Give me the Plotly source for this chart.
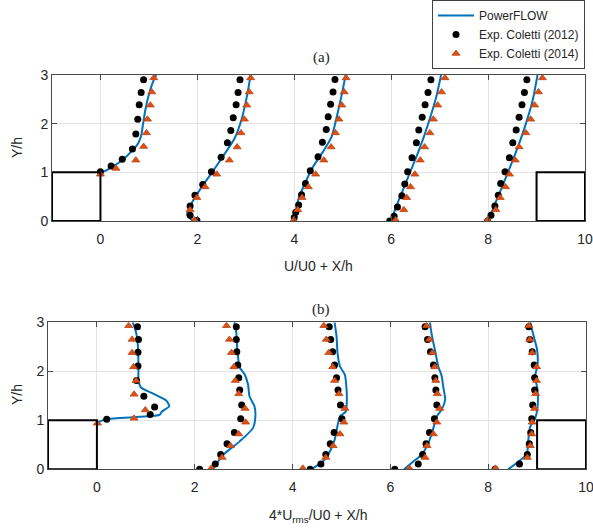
import plotly.graph_objects as go

# ---------------- data ----------------
stations = [0, 2, 4, 6, 8]  # X/h

# (a) mean velocity U/U0 -- PowerFLOW
a_sim_y = [
    [1.0, 1.03, 1.1, 1.25, 1.45, 1.6, 1.75, 2.0, 2.3, 2.6, 2.85, 3.0],
    [0.0, 0.05, 0.14, 0.36, 0.64, 0.98, 1.33, 1.70, 2.08, 2.55, 3.0],
    [0.0, 0.43, 0.77, 1.12, 1.42, 1.73, 2.11, 2.55, 3.0],
    [0.0, 0.29, 0.63, 0.98, 1.32, 1.66, 2.08, 2.55, 3.0],
    [0.0, 0.25, 0.56, 0.90, 1.25, 1.59, 2.0, 2.48, 3.0],
]
a_sim_u = [
    [0.0, 0.1, 0.22, 0.45, 0.66, 0.78, 0.84, 0.88, 0.93, 1.0, 1.08, 1.15],
    [-0.08, -0.15, -0.21, -0.12, 0.05, 0.29, 0.53, 0.77, 0.91, 1.02, 1.10],
    [0.0, 0.08, 0.22, 0.39, 0.59, 0.77, 0.87, 0.97, 1.06],
    [0.0, 0.10, 0.24, 0.38, 0.52, 0.65, 0.79, 0.93, 1.03],
    [-0.01, 0.10, 0.23, 0.37, 0.51, 0.64, 0.78, 0.92, 1.02],
]
# (a) Exp. Coletti (2012)
a_e12_y = [
    [1.01, 1.13, 1.27, 1.48, 1.79, 2.09, 2.39, 2.64, 2.90],
    [0.01, 0.12, 0.31, 0.53, 0.75, 1.01, 1.31, 1.61, 1.86, 2.12, 2.39, 2.64, 2.90],
    [0.07, 0.18, 0.33, 0.54, 0.77, 1.03, 1.32, 1.62, 1.88, 2.14, 2.40, 2.65, 2.91],
    [0.0, 0.10, 0.29, 0.52, 0.76, 1.01, 1.30, 1.61, 1.87, 2.13, 2.39, 2.64, 2.90],
    [0.0, 0.12, 0.31, 0.53, 0.77, 1.01, 1.30, 1.61, 1.87, 2.13, 2.39, 2.64, 2.90],
]
a_e12_u = [
    [0.0, 0.22, 0.45, 0.66, 0.73, 0.77, 0.80, 0.84, 0.89],
    [-0.01, -0.15, -0.15, -0.05, 0.11, 0.29, 0.49, 0.62, 0.69, 0.74, 0.80, 0.84, 0.88],
    [0.0, 0.03, 0.09, 0.15, 0.23, 0.33, 0.49, 0.58, 0.66, 0.70, 0.75, 0.80, 0.84],
    [-0.03, 0.06, 0.13, 0.22, 0.28, 0.34, 0.43, 0.52, 0.57, 0.64, 0.70, 0.76, 0.82],
    [-0.01, 0.06, 0.14, 0.21, 0.26, 0.35, 0.44, 0.51, 0.58, 0.64, 0.70, 0.75, 0.80],
]
# (a) Exp. Coletti (2014)
e14_y_block = [0.96, 1.08, 1.25, 1.53, 1.81, 2.09, 2.38, 2.65, 2.94]
e14_y_wake = [0.02, 0.23, 0.48, 0.70, 0.96, 1.25, 1.52, 1.81, 2.09, 2.38, 2.65, 2.94]
a_e14_u = [
    [0.0, 0.32, 0.73, 0.89, 0.95, 0.97, 1.03, 1.06, 1.10],
    [-0.06, -0.15, -0.01, 0.16, 0.40, 0.66, 0.82, 0.90, 0.97, 1.02, 1.07, 1.10],
    [-0.01, 0.07, 0.16, 0.29, 0.44, 0.61, 0.76, 0.85, 0.92, 0.98, 1.03, 1.07],
    [0.09, 0.26, 0.32, 0.40, 0.49, 0.60, 0.69, 0.80, 0.87, 0.96, 1.04, 1.11],
    [-0.01, 0.16, 0.25, 0.36, 0.44, 0.56, 0.64, 0.78, 0.88, 0.96, 1.04, 1.12],
]

# (b) 4*Urms/U0 -- PowerFLOW
b_sim_y = [
    [0.95, 1.02, 1.07, 1.11, 1.18, 1.29, 1.41, 1.55, 1.67, 1.82, 2.09, 2.63, 2.87, 3.0],
    [0.0, 0.32, 0.57, 0.84, 1.08, 1.29, 1.49, 1.73, 1.94, 2.08, 2.45, 2.79, 3.0],
    [0.0, 0.16, 0.36, 0.60, 0.84, 1.08, 1.18, 1.42, 1.69, 1.93, 2.10, 2.37, 2.71, 3.0],
    [0.0, 0.16, 0.30, 0.54, 0.77, 1.08, 1.22, 1.42, 1.69, 1.90, 2.10, 2.44, 2.78, 3.0],
    [0.0, 0.16, 0.31, 0.60, 0.87, 1.04, 1.28, 1.62, 1.90, 2.13, 2.44, 2.72, 3.0],
]
b_sim_v = [
    [0.01, 0.18, 0.87, 1.28, 1.33, 1.48, 1.41, 1.14, 0.90, 0.85, 0.85, 0.83, 0.78, 0.73],
    [0.36, 0.61, 0.92, 1.19, 1.24, 1.22, 1.12, 1.09, 1.02, 0.92, 0.87, 0.85, 0.81],
    [0.38, 0.62, 0.76, 0.86, 0.91, 0.97, 1.09, 1.11, 1.10, 1.07, 0.97, 0.92, 0.90, 0.86],
    [0.28, 0.47, 0.64, 0.78, 0.86, 0.95, 1.05, 1.12, 1.08, 1.05, 0.98, 0.91, 0.84, 0.81],
    [0.41, 0.62, 0.79, 0.82, 0.86, 0.96, 1.01, 1.01, 0.96, 1.01, 1.00, 0.93, 0.86],
]
# (b) Exp. Coletti (2012)
b_e12_y_block = [1.02, 1.12, 1.27, 1.49, 1.81, 2.11, 2.39, 2.65, 2.91]
b_e12_y_wake = [0.0, 0.11, 0.30, 0.52, 0.75, 1.03, 1.31, 1.62, 1.87, 2.13, 2.40, 2.65, 2.91]
b_e12_v = [
    [0.20, 1.09, 1.18, 0.96, 0.81, 0.84, 0.84, 0.85, 0.83],
    [0.10, 0.42, 0.53, 0.66, 0.81, 0.94, 0.96, 0.92, 0.90, 0.88, 0.86, 0.85, 0.85],
    [0.36, 0.58, 0.68, 0.77, 0.85, 1.01, 0.98, 0.93, 0.90, 0.86, 0.82, 0.78, 0.75],
    [0.09, 0.57, 0.66, 0.73, 0.80, 0.90, 0.95, 0.93, 0.91, 0.88, 0.82, 0.76, 0.71],
    [0.14, 0.64, 0.80, 0.84, 0.87, 0.89, 0.91, 0.95, 0.95, 0.94, 0.90, 0.85, 0.83],
]
# (b) Exp. Coletti (2014)
b_e14_y_block = [0.94, 1.04, 1.21, 1.53, 1.81, 2.09, 2.38, 2.65, 2.93]
b_e14_y_wake = [0.02, 0.24, 0.48, 0.72, 0.96, 1.24, 1.54, 1.81, 2.09, 2.38, 2.65, 2.93]
b_e14_v = [
    [0.01, 0.76, 0.99, 0.76, 0.80, 0.75, 0.72, 0.72, 0.65],
    [0.34, 0.56, 0.73, 0.90, 1.04, 1.03, 0.90, 0.83, 0.80, 0.75, 0.71, 0.65],
    [0.21, 0.68, 0.83, 0.97, 1.05, 1.07, 0.95, 0.86, 0.82, 0.74, 0.69, 0.64],
    [0.39, 0.71, 0.75, 0.88, 0.95, 1.01, 0.96, 0.93, 0.91, 0.86, 0.80, 0.74],
    [0.15, 0.80, 0.86, 0.89, 0.90, 0.95, 0.97, 0.99, 0.99, 0.90, 0.85, 0.83],
]

# blocks (obstacles), in X/h and Y/h
block_x_spans = [(-1, 0), (9, 10)]
block_height = 1

x_ticks = [0, 2, 4, 6, 8, 10]
y_ticks = [0, 1, 2, 3]

# ---------------- helpers ----------------
def join(vals_list, ys_list):
    xs, ys = [], []
    for st, v, y in zip(stations, vals_list, ys_list):
        xs += [st + a for a in v] + [None]
        ys += list(y) + [None]
    return xs, ys

BLUE = "#0072BD"
ORANGE = "#D95319"
FONT = "Liberation Sans"
SERIF = "Liberation Serif"

fig = go.Figure()

panels = [
    ("x", "y", a_sim_u, a_sim_y, a_e12_u, a_e12_y,
     a_e14_u, [e14_y_block] + [e14_y_wake] * 4, True),
    ("x2", "y2", b_sim_v, b_sim_y, b_e12_v, [b_e12_y_block] + [b_e12_y_wake] * 4,
     b_e14_v, [b_e14_y_block] + [b_e14_y_wake] * 4, False),
]

for xa, ya, sv, sy, e12v, e12y, e14v, e14y, show in panels:
    for i, (st, v, y) in enumerate(zip(stations, sv, sy)):
        fig.add_trace(go.Scatter(
            x=[st + a for a in v], y=y, mode="lines", xaxis=xa, yaxis=ya,
            line=dict(color=BLUE, width=2, shape="spline", smoothing=0.6),
            name="PowerFLOW", legendgroup="sim",
            showlegend=(show and i == 0)))
    x12, y12 = join(e12v, e12y)
    fig.add_trace(go.Scatter(
        x=x12, y=y12, mode="markers", xaxis=xa, yaxis=ya,
        marker=dict(color="black", size=7, symbol="circle"),
        name="Exp. Coletti (2012)", legendgroup="e12", showlegend=show))
    x14, y14 = join(e14v, e14y)
    fig.add_trace(go.Scatter(
        x=x14, y=y14, mode="markers", xaxis=xa, yaxis=ya,
        marker=dict(color=ORANGE, size=7, symbol="triangle-up",
                    line=dict(color="#C04010", width=0.8)),
        name="Exp. Coletti (2014)", legendgroup="e14", showlegend=show))

# blocks
for xr, yr in [("x", "y"), ("x2", "y2")]:
    for x0, x1 in block_x_spans:
        fig.add_shape(type="rect", xref=xr, yref=yr, x0=x0, x1=x1, y0=0,
                      y1=block_height, line=dict(color="black", width=2),
                      fillcolor="rgba(0,0,0,0)")

W, H = 593, 530
axis_common = dict(
    showline=True, linecolor="#4a4a4a", linewidth=1, mirror="ticks",
    ticks="inside", ticklen=5, tickcolor="#4a4a4a",
    showgrid=True, gridcolor="#e3e3e3", gridwidth=1, zeroline=False,
    tickfont=dict(family=FONT, size=14, color="#262626"),
)
xaxis_extra = dict(ticklabelstandoff=5, ticklabeloverflow="allow")

fig.update_layout(
    width=W, height=H, autosize=False,
    margin=dict(l=0, r=0, t=0, b=0, autoexpand=False),
    paper_bgcolor="white", plot_bgcolor="white",
    xaxis=dict(domain=[52 / W, 585 / W], range=[-1, 10], tickvals=x_ticks,
               anchor="y", **axis_common, **xaxis_extra),
    yaxis=dict(domain=[1 - 221 / H, 1 - 75 / H], range=[0, 3], tickvals=y_ticks,
               anchor="x", **axis_common),
    xaxis2=dict(domain=[48 / W, 586 / W], range=[-1, 10], tickvals=x_ticks,
                anchor="y2", **axis_common, **xaxis_extra),
    yaxis2=dict(domain=[1 - 469.3 / H, 1 - 322.3 / H], range=[0, 3], tickvals=y_ticks,
                anchor="x2", **axis_common),
    legend=dict(x=585 / W, xanchor="right", y=1.0, yanchor="top",
                bgcolor="white", bordercolor="#404040", borderwidth=1,
                font=dict(family=FONT, size=12, color="#262626"),
                tracegroupgap=0, itemwidth=36),
    showlegend=True,
)

def ann(text, x, y, size=14, family=FONT, angle=0):
    fig.add_annotation(text=text, x=x / W, y=1 - y / H, xref="paper", yref="paper",
                       showarrow=False, textangle=angle,
                       font=dict(family=family, size=size, color="#262626"),
                       xanchor="center", yanchor="middle")

ann("(a)", 321, 58, size=15, family=SERIF)
ann("(b)", 321, 309, size=15, family=SERIF)
ann("U/U0 + X/h", 318, 266)
ann("4*U<sub>rms</sub>/U0 + X/h", 318, 516)
ann("Y/h", 17, 148, angle=-90)
ann("Y/h", 17, 395, angle=-90)

fig.write_html("out.html")
